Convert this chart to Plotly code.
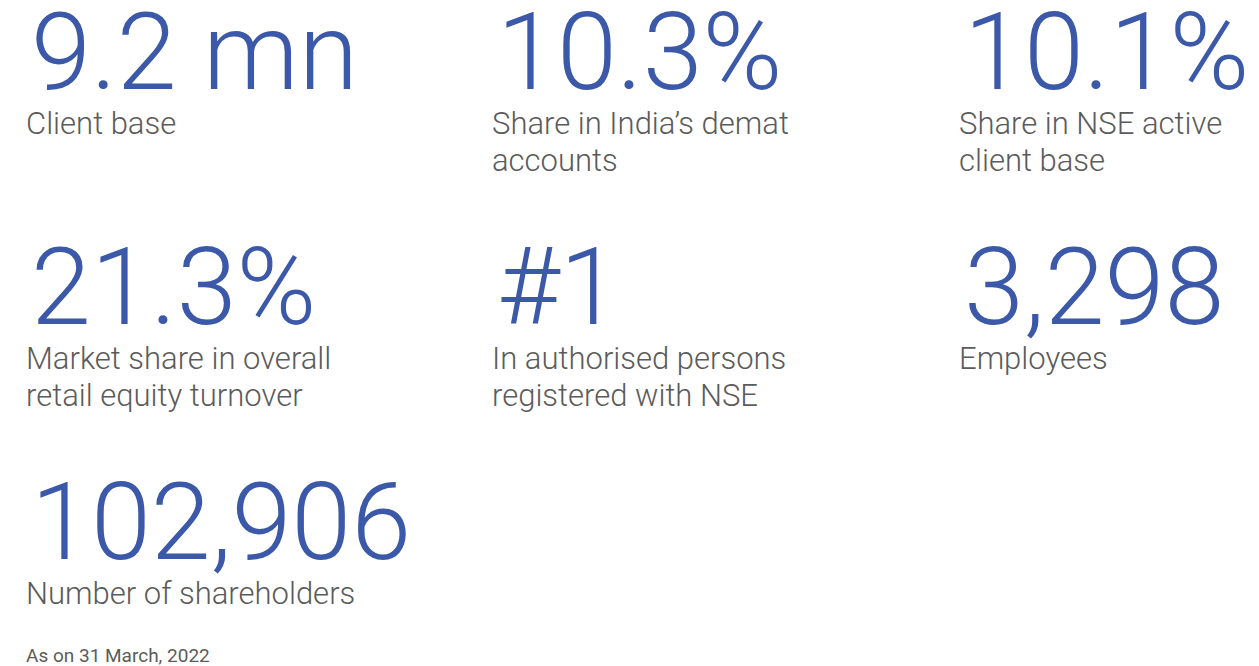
import plotly.graph_objects as go

values = ["9.2 mn", "10.3%", "10.1%", "21.3%", "#1", "3,298", "102,906"]
labels = [
    ["Client base"],
    ["Share in India’s demat", "accounts"],
    ["Share in NSE active", "client base"],
    ["Market share in overall", "retail equity turnover"],
    ["In authorised persons", "registered with NSE"],
    ["Employees"],
    ["Number of shareholders"],
]
footnote = "As on 31 March, 2022"

col_x = [27, 493, 960]
row_num_y = [43.5, 278.5, 513.5]
row_lab_y = [115.5, 350.5, 585.5]
LINE = 37
BLUE = "#3b59a8"
GREY = "#5b5b5b"
W, H = 1259, 666

fig = go.Figure()
ann = []
for i, (v, lines) in enumerate(zip(values, labels)):
    cx = col_x[i % 3]
    r = i // 3
    ann.append(dict(x=cx - 6, y=row_num_y[r], text=v, showarrow=False, xanchor="left", yanchor="middle",
                    font=dict(family="Roboto", size=108, color=BLUE, weight=300)))
    for j, line in enumerate(lines):
        ann.append(dict(x=cx - 11, y=row_lab_y[r] + j * LINE, text=line, showarrow=False,
                        xanchor="left", yanchor="middle", align="left",
                        font=dict(family="Roboto", size=31, color=GREY, weight=300)))
ann.append(dict(x=16, y=647, text=footnote, showarrow=False, xanchor="left", yanchor="middle",
                font=dict(family="Roboto", size=19, color=GREY)))

fig.update_layout(
    width=W, height=H, margin=dict(l=0, r=0, t=0, b=0),
    paper_bgcolor="white", plot_bgcolor="white",
    xaxis=dict(range=[0, W], visible=False, fixedrange=True),
    yaxis=dict(range=[H, 0], visible=False, fixedrange=True),
    annotations=ann, showlegend=False,
)
fig.write_html("out.html")
